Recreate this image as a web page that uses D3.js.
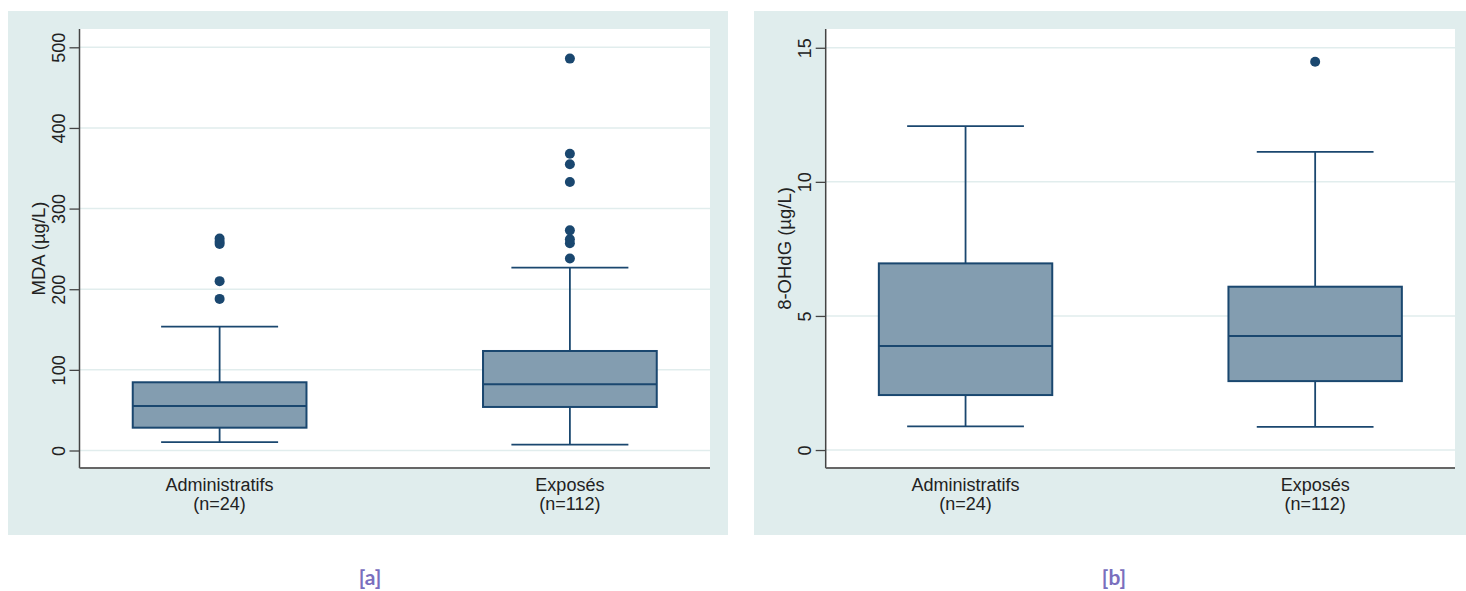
<!DOCTYPE html>
<html>
<head>
<meta charset="utf-8">
<title>MDA et 8-OHdG</title>
<script src="https://d3js.org/d3.v7.min.js"></script>
<style>
	body { margin: 0; background: #fff; }
	text { font-family: "Liberation Sans", Arial, sans-serif; fill: #222; }
	.tag { font-family: Lato, "Open Sans", sans-serif; font-weight: bold; fill: #7a6fbe; }
</style>
</head>
<body>
<svg id="chart" width="1466" height="591"></svg>
<script>
	// groups
	var categories = ["Administratifs", "Exposés"];
	var sampleSizes = [24, 112];

	// panel a : MDA
	var mdaLow = [10.5, 7.2];
	var mdaQ1 = [28.3, 54];
	var mdaMedian = [55.2, 82.1];
	var mdaQ3 = [84.6, 123.4];
	var mdaHigh = [153.5, 226.7];
	var mdaOutAdmin = [188, 210, 256, 259, 263];
	var mdaOutExp = [238, 257, 262, 273, 333, 355, 368, 486];
	var mdaTicks = [0, 100, 200, 300, 400, 500];

	// panel b : 8-OHdG
	var ohdgLow = [0.88, 0.86];
	var ohdgQ1 = [2.05, 2.57];
	var ohdgMedian = [3.88, 4.25];
	var ohdgQ3 = [6.96, 6.09];
	var ohdgHigh = [12.08, 11.12];
	var ohdgOutAdmin = [];
	var ohdgOutExp = [14.48];
	var ohdgTicks = [0, 5, 10, 15];

	const BOXCOLOR = '#1a476f';
	const BOXFILL = '#839db0';
	const GRID = '#e1eded';

	var svg = d3.select('#chart');

	function drawPanel(opt) {
		var g = svg.append('g');

		g.append('rect')
			.attr('x', opt.bgX).attr('y', 11)
			.attr('width', opt.bgW).attr('height', 524)
			.attr('fill', '#e0eded');

		var left = opt.left, right = opt.right, top = 29, bottom = 468;

		g.append('rect')
			.attr('x', left).attr('y', top)
			.attr('width', right - left).attr('height', bottom - top)
			.attr('fill', '#fff');

		var y = d3.scaleLinear().domain(opt.domain).range([bottom, top]);
		var x = d3.scalePoint().domain(categories).range([left, right]).padding(0.4);
		var step = x.step();

		// grid
		g.selectAll('.grid').data(opt.ticks).enter()
			.append('line')
			.attr('x1', left).attr('x2', right)
			.attr('y1', d => y(d)).attr('y2', d => y(d))
			.attr('stroke', GRID).attr('stroke-width', 1.5);

		// y axis
		var yAxis = g.append('g')
			.attr('transform', 'translate(' + left + ',0)')
			.call(d3.axisLeft(y).tickValues(opt.ticks).tickSize(10).tickPadding(4).tickSizeOuter(0));
		yAxis.select('.domain').remove();
		yAxis.selectAll('.tick line').attr('stroke', '#444').attr('stroke-width', 1.3);
		yAxis.selectAll('.tick text')
			.attr('font-size', '18px')
			.attr('fill', '#222')
			.attr('text-anchor', 'middle')
			.attr('dy', 0)
			.attr('transform', 'translate(-15,0) rotate(-90)')
			.attr('x', 0)
			.attr('y', 0)
			.style('font-family', '"Liberation Sans", Arial, sans-serif');

		g.append('line')
			.attr('x1', left).attr('x2', left)
			.attr('y1', top).attr('y2', bottom)
			.attr('stroke', '#444').attr('stroke-width', 1.5);
		g.append('line')
			.attr('x1', left).attr('x2', right)
			.attr('y1', bottom).attr('y2', bottom)
			.attr('stroke', '#666').attr('stroke-width', 2);

		// y title
		g.append('text')
			.attr('transform', 'translate(' + (left - 35) + ',' + ((top + bottom) / 2) + ') rotate(-90)')
			.attr('text-anchor', 'middle')
			.attr('font-size', '18.5px')
			.text(opt.title);

		// x labels
		categories.forEach(function(c, i) {
			g.append('text')
				.attr('x', x(c)).attr('y', 491)
				.attr('text-anchor', 'middle')
				.attr('font-size', '18px')
				.text(c);
			g.append('text')
				.attr('x', x(c)).attr('y', 510)
				.attr('text-anchor', 'middle')
				.attr('font-size', '18px')
				.text('(n=' + sampleSizes[i] + ')');
		});

		// boxes
		categories.forEach(function(c, i) {
			var cx = x(c);
			var bw = step * 0.496, cw = step * 0.334;
			var bg = g.append('g').attr('class', 'box');

			bg.append('line')
				.attr('x1', cx).attr('x2', cx)
				.attr('y1', y(opt.high[i])).attr('y2', y(opt.q3[i]))
				.attr('stroke', BOXCOLOR).attr('stroke-width', 1.8);
			bg.append('line')
				.attr('x1', cx).attr('x2', cx)
				.attr('y1', y(opt.q1[i])).attr('y2', y(opt.low[i]))
				.attr('stroke', BOXCOLOR).attr('stroke-width', 1.8);
			[opt.high[i], opt.low[i]].forEach(function(v) {
				bg.append('line')
					.attr('x1', cx - cw / 2).attr('x2', cx + cw / 2)
					.attr('y1', y(v)).attr('y2', y(v))
					.attr('stroke', BOXCOLOR).attr('stroke-width', 1.8);
			});
			bg.append('rect')
				.attr('x', cx - bw / 2).attr('width', bw)
				.attr('y', y(opt.q3[i])).attr('height', y(opt.q1[i]) - y(opt.q3[i]))
				.attr('fill', BOXFILL)
				.attr('stroke', BOXCOLOR).attr('stroke-width', 2);
			bg.append('line')
				.attr('x1', cx - bw / 2).attr('x2', cx + bw / 2)
				.attr('y1', y(opt.median[i])).attr('y2', y(opt.median[i]))
				.attr('stroke', BOXCOLOR).attr('stroke-width', 2);

			bg.selectAll('circle').data(opt.outliers[i]).enter()
				.append('circle')
				.attr('cx', cx).attr('cy', d => y(d))
				.attr('r', 5)
				.attr('fill', BOXCOLOR);
		});

		svg.append('text')
			.attr('class', 'tag')
			.attr('x', opt.tagX).attr('y', 585)
			.attr('text-anchor', 'middle')
			.attr('font-size', '21px')
			.text(opt.tag);
	}

	drawPanel({
		bgX: 8, bgW: 720, left: 79.5, right: 710,
		domain: [-21.7, 522.7], ticks: mdaTicks,
		title: 'MDA (µg/L)',
		low: mdaLow, q1: mdaQ1, median: mdaMedian, q3: mdaQ3, high: mdaHigh,
		outliers: [mdaOutAdmin, mdaOutExp],
		tag: '[a]', tagX: 370
	});

	drawPanel({
		bgX: 754, bgW: 712, left: 825.7, right: 1455,
		domain: [-0.67, 15.70], ticks: ohdgTicks,
		title: '8-OHdG (µg/L)',
		low: ohdgLow, q1: ohdgQ1, median: ohdgMedian, q3: ohdgQ3, high: ohdgHigh,
		outliers: [ohdgOutAdmin, ohdgOutExp],
		tag: '[b]', tagX: 1114
	});
</script>
</body>
</html>
